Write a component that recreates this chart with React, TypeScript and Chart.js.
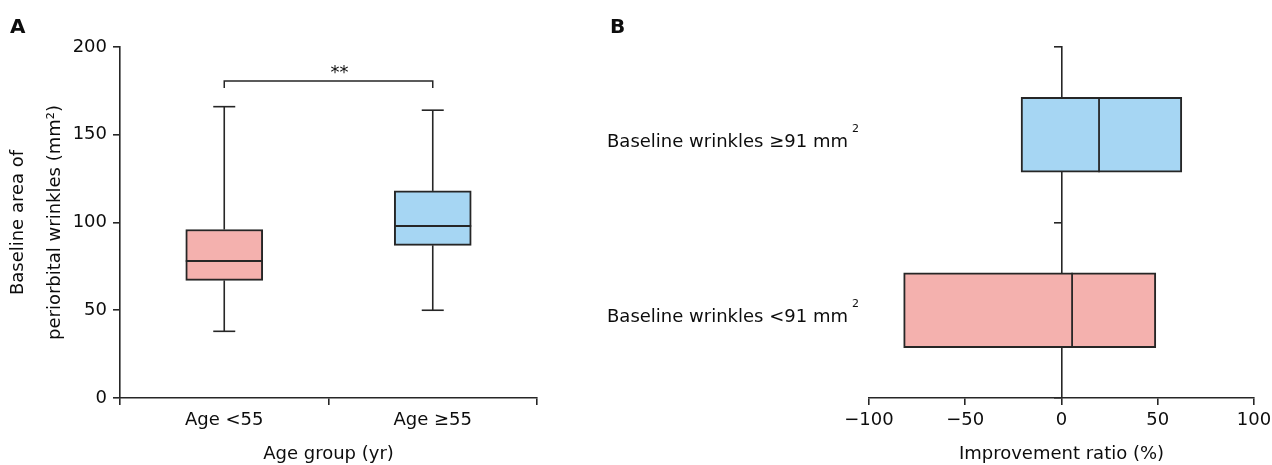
import React, { useEffect, useRef } from 'react';
import { Chart, registerables } from 'chart.js';

Chart.register(...registerables);

// ---------- Panel A data ----------
const ageGroups = ['Age <55', 'Age ≥55'];
const ageMin = [38, 50];
const ageQ1 = [67, 87];
const ageMedian = [78, 98];
const ageQ3 = [96, 118];
const ageMax = [166, 164];
const sigText = '**';
const sigBracketTop = 180.6;
const sigBracketEnd = 176.6;
const sigTextValue = 182.3;

// ---------- Panel B data ----------
const wrinkleGroups = ['Baseline wrinkles ≥91 mm', 'Baseline wrinkles <91 mm'];
const improvQ1 = [-21, -82];
const improvMedian = [19.5, 5.5];
const improvQ3 = [62.5, 49];

const PINK = '#F4B1AE';
const BLUE = '#A6D6F3';
const LINE = '#262626';
const TEXT = '#0d0d0d';
const FAMILY = '"DejaVu Sans", sans-serif';

const boxPluginA = {
  id: 'boxPluginA',
  afterDatasetsDraw(chart: any) {
    const { ctx } = chart;
    const y = chart.scales.y;
    const meta = chart.getDatasetMeta(0);
    ctx.save();
    ctx.strokeStyle = LINE;
    ctx.lineWidth = 1.6;
    const capHalf = 11;
    const seg = (x1: number, y1: number, x2: number, y2: number) => {
      ctx.beginPath();
      ctx.moveTo(x1, y1);
      ctx.lineTo(x2, y2);
      ctx.stroke();
    };
    meta.data.forEach((bar: any, i: number) => {
      const cx = bar.x;
      const half = bar.width / 2;
      const yMin = y.getPixelForValue(ageMin[i]);
      const yQ1 = y.getPixelForValue(ageQ1[i]);
      const yMed = y.getPixelForValue(ageMedian[i]);
      const yQ3 = y.getPixelForValue(ageQ3[i]);
      const yMax = y.getPixelForValue(ageMax[i]);
      seg(cx, yQ1, cx, yMin);
      seg(cx - capHalf, yMin, cx + capHalf, yMin);
      seg(cx, yQ3, cx, yMax);
      seg(cx - capHalf, yMax, cx + capHalf, yMax);
      ctx.lineWidth = 2;
      seg(cx - half, yMed, cx + half, yMed);
      ctx.lineWidth = 1.6;
    });
    // significance bracket
    const x0 = meta.data[0].x;
    const x1 = meta.data[1].x;
    const yTop = y.getPixelForValue(sigBracketTop);
    const yEnd = y.getPixelForValue(sigBracketEnd);
    ctx.lineWidth = 1.5;
    ctx.beginPath();
    ctx.moveTo(x0, yEnd);
    ctx.lineTo(x0, yTop);
    ctx.lineTo(x1, yTop);
    ctx.lineTo(x1, yEnd);
    ctx.stroke();
    ctx.fillStyle = TEXT;
    ctx.font = `18px ${FAMILY}`;
    ctx.textAlign = 'center';
    ctx.textBaseline = 'alphabetic';
    ctx.fillText(sigText, (x0 + x1) / 2 + 11, y.getPixelForValue(sigTextValue));
    // panel letter
    ctx.font = `bold 20px ${FAMILY}`;
    ctx.textAlign = 'left';
    ctx.fillText('A', 10, 33);
    ctx.restore();
  },
};

const boxPluginB = {
  id: 'boxPluginB',
  afterDatasetsDraw(chart: any) {
    const { ctx } = chart;
    const x = chart.scales.x;
    const y = chart.scales.y;
    const meta = chart.getDatasetMeta(0);
    ctx.save();
    ctx.strokeStyle = LINE;
    ctx.lineWidth = 1.8;
    meta.data.forEach((bar: any, i: number) => {
      const cy = bar.y;
      const half = bar.height / 2;
      const xm = x.getPixelForValue(improvMedian[i]);
      ctx.beginPath();
      ctx.moveTo(xm, cy - half);
      ctx.lineTo(xm, cy + half);
      ctx.stroke();
    });
    // category labels with superscript
    ctx.fillStyle = TEXT;
    ctx.textAlign = 'left';
    ctx.textBaseline = 'alphabetic';
    wrinkleGroups.forEach((label, i) => {
      const base = y.getPixelForValue(i) + 12;
      ctx.font = `18px ${FAMILY}`;
      ctx.fillText(label, 27, base);
      const w = ctx.measureText(label).width;
      ctx.font = `11px ${FAMILY}`;
      ctx.fillText('2', 27 + w + 4, base - 15);
    });
    ctx.font = `bold 20px ${FAMILY}`;
    ctx.fillText('B', 30, 33);
    ctx.restore();
  },
};

const tickFont = { family: FAMILY, size: 18 };

function PanelA() {
  const ref = useRef<HTMLCanvasElement>(null);
  useEffect(() => {
    const chart = new Chart(ref.current as HTMLCanvasElement, {
      type: 'bar',
      data: {
        labels: ageGroups,
        datasets: [
          {
            data: ageQ1.map((q, i) => [q, ageQ3[i]]) as any,
            backgroundColor: [PINK, BLUE],
            borderColor: LINE,
            borderWidth: 2,
            borderSkipped: false,
            barThickness: 77,
          },
        ],
      },
      options: {
        responsive: false,
        animation: false,
        layout: { padding: { top: 47, right: 43, left: 0, bottom: 0 } },
        plugins: { legend: { display: false }, tooltip: { enabled: false } },
        scales: {
          x: {
            grid: { offset: true, drawOnChartArea: false, drawTicks: true, tickLength: 7, color: LINE, lineWidth: 1.6 },
            border: { display: true, color: LINE, width: 1.6 },
            ticks: { color: TEXT, font: tickFont, padding: 5 },
            title: { display: true, text: 'Age group (yr)', color: TEXT, font: tickFont, padding: 0 },
            afterFit: (s: any) => { s.height = 67; s.paddingLeft = 0; s.paddingRight = 0; },
          },
          y: {
            min: 0,
            max: 200,
            ticks: { stepSize: 50, color: TEXT, font: tickFont, padding: 6 },
            grid: { drawOnChartArea: false, drawTicks: true, tickLength: 7, color: LINE, lineWidth: 1.6 },
            border: { display: true, color: LINE, width: 1.6 },
            title: {
              display: true,
              text: ['Baseline area of', 'periorbital wrinkles (mm²)'],
              color: TEXT,
              font: { family: FAMILY, size: 18, lineHeight: 2.05 },
              padding: { top: 0, bottom: 0 },
            },
            afterFit: (s: any) => { s.width = 120; s.paddingTop = 0; s.paddingBottom = 0; },
          },
        },
      } as any,
      plugins: [boxPluginA],
    });
    return () => chart.destroy();
  }, []);
  return <canvas ref={ref} width={580} height={465} style={{ position: 'absolute', left: 0, top: 0, width: 580, height: 465 }} />;
}

function PanelB() {
  const ref = useRef<HTMLCanvasElement>(null);
  useEffect(() => {
    const chart = new Chart(ref.current as HTMLCanvasElement, {
      type: 'bar',
      data: {
        labels: wrinkleGroups,
        datasets: [
          {
            data: improvQ1.map((q, i) => [q, improvQ3[i]]) as any,
            backgroundColor: [BLUE, PINK],
            borderColor: LINE,
            borderWidth: 2,
            borderSkipped: false,
            barThickness: 75,
          },
        ],
      },
      options: {
        indexAxis: 'y',
        responsive: false,
        animation: false,
        layout: { padding: { top: 47, right: 18, left: 289, bottom: 0 } },
        plugins: { legend: { display: false }, tooltip: { enabled: false } },
        scales: {
          x: {
            type: 'linear',
            min: -100,
            max: 100,
            ticks: {
              stepSize: 50,
              color: TEXT,
              font: tickFont,
              padding: 5,
              callback: (v: any) => (Number(v) < 0 ? '\u2212' + Math.abs(Number(v)) : String(v)),
            },
            grid: { drawOnChartArea: false, drawTicks: true, tickLength: 7, color: LINE, lineWidth: 1.6 },
            border: { display: true, color: LINE, width: 1.6 },
            title: { display: true, text: 'Improvement ratio (%)', color: TEXT, font: tickFont, padding: 0 },
            afterFit: (s: any) => { s.height = 67; s.paddingLeft = 0; s.paddingRight = 0; },
          },
          y: {
            type: 'category',
            position: { x: 0 },
            ticks: { display: false },
            grid: { offset: true, drawOnChartArea: false, drawTicks: true, tickLength: 7, color: LINE, lineWidth: 1.6 },
            border: { display: true, color: LINE, width: 1.6 },
            afterFit: (s: any) => { s.width = 0; s.paddingTop = 0; s.paddingBottom = 0; },
          },
        },
      } as any,
      plugins: [boxPluginB],
    });
    return () => chart.destroy();
  }, []);
  return <canvas ref={ref} width={692} height={465} style={{ position: 'absolute', left: 580, top: 0, width: 692, height: 465 }} />;
}

export default function App() {
  return (
    <div style={{ position: 'absolute', left: 0, top: 0, width: 1272, height: 465, background: '#ffffff', overflow: 'hidden' }}>
      <PanelA />
      <PanelB />
    </div>
  );
}
